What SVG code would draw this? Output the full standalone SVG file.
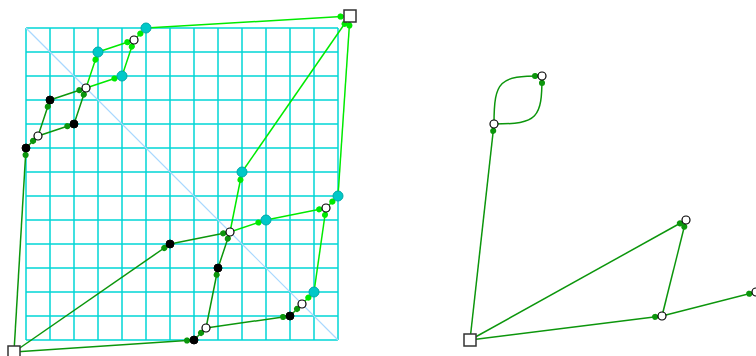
<svg xmlns="http://www.w3.org/2000/svg" width="756" height="356" viewBox="0 0 756 356">
<style>
.grid line{stroke:#00d6d6;stroke-width:1.5}
.grid .diag{stroke:#a8d8ff;stroke-width:1.2}
.d{stroke:#0c960c;stroke-width:1.5;fill:none;marker-end:url(#mD)}
.b{stroke:#00ea00;stroke-width:1.5;fill:none;marker-end:url(#mB)}
.b5{marker-end:url(#mB5)}
.bs{marker-end:url(#mBs)}
.blk{fill:#000;stroke:#000;stroke-width:1}
.wht{fill:#fff;stroke:#000;stroke-width:1.2}
.cyn{fill:#00c8c8;stroke:#00a8a8;stroke-width:1}
.sq{fill:#fff;stroke:#333;stroke-width:1.5}
.mk-d{fill:#0c960c;stroke:none}
.mk-b{fill:#00ea00;stroke:none}
</style>
<defs>
<marker id="mD" markerUnits="userSpaceOnUse" viewBox="0 0 16 10" markerWidth="16" markerHeight="10" refX="11" refY="5" orient="auto" overflow="visible"><circle class="mk-d" cx="4" cy="5" r="3"/><polygon class="mk-d" points="4,2 9,5 4,8"/></marker>
<marker id="mB" markerUnits="userSpaceOnUse" viewBox="0 0 16 10" markerWidth="16" markerHeight="10" refX="11" refY="5" orient="auto" overflow="visible"><circle class="mk-b" cx="4" cy="5" r="3"/><polygon class="mk-b" points="4,2 9,5 4,8"/></marker>
<marker id="mB5" markerUnits="userSpaceOnUse" viewBox="0 0 16 10" markerWidth="16" markerHeight="10" refX="12" refY="5" orient="auto" overflow="visible"><circle class="mk-b" cx="4" cy="5" r="3"/><polygon class="mk-b" points="4,2 9,5 4,8"/></marker>
<marker id="mBs" markerUnits="userSpaceOnUse" viewBox="0 0 16 10" markerWidth="16" markerHeight="10" refX="13.5" refY="5" orient="auto" overflow="visible"><circle class="mk-b" cx="4" cy="5" r="3"/><polygon class="mk-b" points="4,2 9,5 4,8"/></marker>
</defs>
<g id="grid" class="grid">
<line x1="26" y1="28" x2="26" y2="340"/><line x1="50" y1="28" x2="50" y2="340"/><line x1="74" y1="28" x2="74" y2="340"/><line x1="98" y1="28" x2="98" y2="340"/><line x1="122" y1="28" x2="122" y2="340"/><line x1="146" y1="28" x2="146" y2="340"/><line x1="170" y1="28" x2="170" y2="340"/><line x1="194" y1="28" x2="194" y2="340"/><line x1="218" y1="28" x2="218" y2="340"/><line x1="242" y1="28" x2="242" y2="340"/><line x1="266" y1="28" x2="266" y2="340"/><line x1="290" y1="28" x2="290" y2="340"/><line x1="314" y1="28" x2="314" y2="340"/><line x1="338" y1="28" x2="338" y2="340"/>
<line x1="26" y1="28" x2="338" y2="28"/><line x1="26" y1="52" x2="338" y2="52"/><line x1="26" y1="76" x2="338" y2="76"/><line x1="26" y1="100" x2="338" y2="100"/><line x1="26" y1="124" x2="338" y2="124"/><line x1="26" y1="148" x2="338" y2="148"/><line x1="26" y1="172" x2="338" y2="172"/><line x1="26" y1="196" x2="338" y2="196"/><line x1="26" y1="220" x2="338" y2="220"/><line x1="26" y1="244" x2="338" y2="244"/><line x1="26" y1="268" x2="338" y2="268"/><line x1="26" y1="292" x2="338" y2="292"/><line x1="26" y1="316" x2="338" y2="316"/><line x1="26" y1="340" x2="338" y2="340"/>
<line class="diag" x1="26" y1="28" x2="338" y2="340"/>
</g>
<g id="connectors">
<line class="d" x1="14" y1="352" x2="26" y2="148"/>
<line class="d" x1="26" y1="148" x2="38" y2="136"/>
<line class="d" x1="38" y1="136" x2="50" y2="100"/>
<line class="d" x1="38" y1="136" x2="74" y2="124"/>
<line class="d" x1="50" y1="100" x2="86" y2="88"/>
<line class="d" x1="74" y1="124" x2="86" y2="88"/>
<line class="d" x1="14" y1="352" x2="170" y2="244"/>
<line class="d" x1="14" y1="352" x2="194" y2="340"/>
<line class="d" x1="194" y1="340" x2="206" y2="328"/>
<line class="d" x1="206" y1="328" x2="218" y2="268"/>
<line class="d" x1="206" y1="328" x2="290" y2="316"/>
<line class="d" x1="218" y1="268" x2="230" y2="232"/>
<line class="d" x1="170" y1="244" x2="230" y2="232"/>
<line class="d" x1="290" y1="316" x2="302" y2="304"/>
<line class="b b5" x1="86" y1="88" x2="98" y2="52"/>
<line class="b b5" x1="86" y1="88" x2="122" y2="76"/>
<line class="b" x1="98" y1="52" x2="134" y2="40"/>
<line class="b" x1="122" y1="76" x2="134" y2="40"/>
<line class="b b5" x1="134" y1="40" x2="146" y2="28"/>
<line class="b bs" x1="146" y1="28" x2="350" y2="16"/>
<line class="b b5" x1="230" y1="232" x2="242" y2="172"/>
<line class="b b5" x1="230" y1="232" x2="266" y2="220"/>
<line class="b b5" x1="302" y1="304" x2="314" y2="292"/>
<line class="b" x1="266" y1="220" x2="326" y2="208"/>
<line class="b" x1="314" y1="292" x2="326" y2="208"/>
<line class="b b5" x1="326" y1="208" x2="338" y2="196"/>
<line class="b bs" x1="338" y1="196" x2="350" y2="16"/>
<line class="b bs" x1="242" y1="172" x2="350" y2="16"/>
<line class="d" x1="470" y1="340" x2="494" y2="124"/>
<path class="d" d="M494,124 C494,80 500,76 542,76"/>
<path class="d" d="M494,124 C538,124 542,118 542,76"/>
<line class="d" x1="470" y1="340" x2="686" y2="220"/>
<line class="d" x1="470" y1="340" x2="662" y2="316"/>
<line class="d" x1="662" y1="316" x2="686" y2="220"/>
<line class="d" x1="662" y1="316" x2="756" y2="292"/>
</g>
<g id="n-s1"><rect class="sq" x="8" y="346" width="12" height="12"/></g>
<g id="n-s2"><rect class="sq" x="344" y="10" width="12" height="12"/></g>
<g id="n-b1"><circle class="blk" cx="26" cy="148" r="4"/></g>
<g id="n-w1"><circle class="wht" cx="38" cy="136" r="4"/></g>
<g id="n-b2"><circle class="blk" cx="50" cy="100" r="4"/></g>
<g id="n-b3"><circle class="blk" cx="74" cy="124" r="4"/></g>
<g id="n-w2"><circle class="wht" cx="86" cy="88" r="4"/></g>
<g id="n-c1"><circle class="cyn" cx="98" cy="52" r="5"/></g>
<g id="n-c2"><circle class="cyn" cx="122" cy="76" r="5"/></g>
<g id="n-w3"><circle class="wht" cx="134" cy="40" r="4"/></g>
<g id="n-c3"><circle class="cyn" cx="146" cy="28" r="5"/></g>
<g id="n-b4"><circle class="blk" cx="170" cy="244" r="4"/></g>
<g id="n-b5"><circle class="blk" cx="194" cy="340" r="4"/></g>
<g id="n-w4"><circle class="wht" cx="206" cy="328" r="4"/></g>
<g id="n-b6"><circle class="blk" cx="218" cy="268" r="4"/></g>
<g id="n-b7"><circle class="blk" cx="290" cy="316" r="4"/></g>
<g id="n-w5"><circle class="wht" cx="230" cy="232" r="4"/></g>
<g id="n-w6"><circle class="wht" cx="302" cy="304" r="4"/></g>
<g id="n-c4"><circle class="cyn" cx="242" cy="172" r="5"/></g>
<g id="n-c5"><circle class="cyn" cx="266" cy="220" r="5"/></g>
<g id="n-c6"><circle class="cyn" cx="314" cy="292" r="5"/></g>
<g id="n-w7"><circle class="wht" cx="326" cy="208" r="4"/></g>
<g id="n-c7"><circle class="cyn" cx="338" cy="196" r="5"/></g>
<g id="n-s3"><rect class="sq" x="464" y="334" width="12" height="12"/></g>
<g id="n-r1"><circle class="wht" cx="494" cy="124" r="4"/></g>
<g id="n-r2"><circle class="wht" cx="542" cy="76" r="4"/></g>
<g id="n-r3"><circle class="wht" cx="686" cy="220" r="4"/></g>
<g id="n-r4"><circle class="wht" cx="662" cy="316" r="4"/></g>
<g id="n-r5"><circle class="wht" cx="756" cy="292" r="4"/></g>
</svg>
